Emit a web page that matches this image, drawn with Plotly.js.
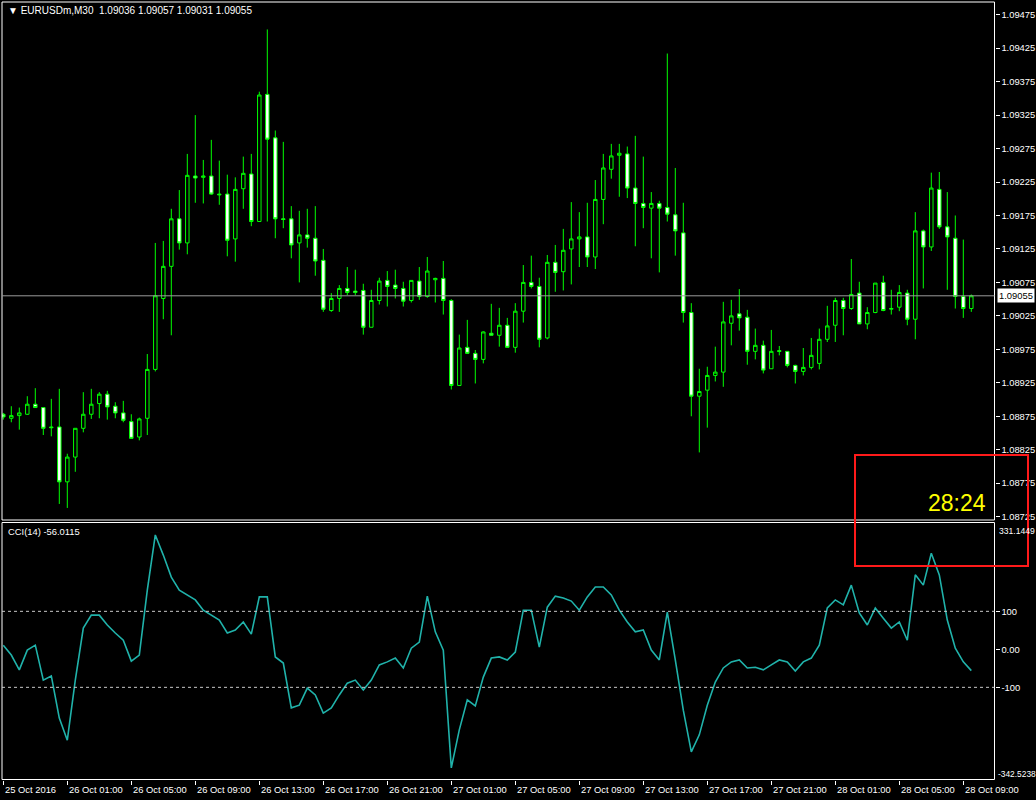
<!DOCTYPE html>
<html><head><meta charset="utf-8">
<script src="https://cdn.plot.ly/plotly-3.0.1.min.js"></script>
<style>html,body{margin:0;padding:0;background:#000;overflow:hidden}#chart{width:1036px;height:800px}</style>
</head><body><div id="chart"></div>
<script>
const headerText = "\u25BC EURUSDm,M30\u00a0\u00a01.09036 1.09057 1.09031 1.09055";
const firstBarUTC = [2016, 9, 25, 21, 0]; // 25 Oct 2016 21:00, M30 bars
const open = [1.08878,1.08872,1.08876,1.08878,1.08893,1.08888,1.08859,1.08859,1.08777,1.08814,1.08857,1.08878,1.08894,1.08908,1.08890,1.08880,1.08867,1.08844,1.08872,1.08945,1.09051,1.09099,1.09170,1.09134,1.09234,1.09232,1.09234,1.09207,1.09207,1.09140,1.09215,1.09237,1.09166,1.09356,1.09291,1.09170,1.09170,1.09134,1.09146,1.09141,1.09108,1.09033,1.09051,1.09066,1.09062,1.09063,1.09008,1.09048,1.09078,1.09071,1.09066,1.09048,1.09077,1.09054,1.09079,1.09081,1.09048,1.08921,1.08978,1.08969,1.08960,1.08999,1.08996,1.09011,1.08978,1.09032,1.09075,1.09069,1.08992,1.09105,1.09091,1.09125,1.09140,1.09143,1.09113,1.09199,1.09244,1.09265,1.09267,1.09216,1.09193,1.09186,1.09193,1.09187,1.09176,1.09149,1.09030,1.08905,1.08914,1.08936,1.08941,1.09014,1.09028,1.09023,1.08972,1.08981,1.08946,1.08973,1.08972,1.08951,1.08942,1.08948,1.08954,1.08990,1.09011,1.09048,1.09036,1.09059,1.09013,1.09030,1.09075,1.09035,1.09038,1.09059,1.09020,1.09152,1.09128,1.09214,1.09158,1.09141,1.09054,1.09036];
const high = [1.08880,1.08890,1.08888,1.08905,1.08917,1.08888,1.08901,1.08916,1.08819,1.08857,1.08911,1.08916,1.08911,1.08913,1.08896,1.08898,1.08878,1.08873,1.08968,1.09134,1.09137,1.09185,1.09213,1.09267,1.09325,1.09258,1.09288,1.09257,1.09236,1.09232,1.09263,1.09267,1.09360,1.09453,1.09302,1.09285,1.09189,1.09182,1.09185,1.09189,1.09125,1.09059,1.09071,1.09098,1.09094,1.09073,1.09064,1.09082,1.09092,1.09094,1.09076,1.09078,1.09098,1.09113,1.09082,1.09107,1.09050,1.08997,1.09019,1.08974,1.09002,1.09043,1.09037,1.09022,1.09044,1.09101,1.09115,1.09082,1.09116,1.09131,1.09155,1.09195,1.09180,1.09194,1.09228,1.09267,1.09282,1.09282,1.09278,1.09294,1.09263,1.09210,1.09197,1.09417,1.09246,1.09194,1.09044,1.08946,1.08949,1.08979,1.09046,1.09049,1.09065,1.09034,1.09006,1.08988,1.09004,1.08980,1.08972,1.08952,1.08977,1.08992,1.09006,1.09040,1.09052,1.09052,1.09110,1.09076,1.09038,1.09074,1.09085,1.09064,1.09071,1.09064,1.09180,1.09154,1.09239,1.09240,1.09210,1.09175,1.09139,1.09057];
const low = [1.08870,1.08866,1.08855,1.08877,1.08888,1.08847,1.08845,1.08744,1.08738,1.08792,1.08851,1.08871,1.08872,1.08870,1.08872,1.08866,1.08842,1.08839,1.08847,1.08942,1.09020,1.08996,1.09124,1.09117,1.09194,1.09193,1.09206,1.09191,1.09114,1.09106,1.09185,1.09159,1.09166,1.09166,1.09141,1.09156,1.09111,1.09075,1.09127,1.09085,1.09031,1.09031,1.09031,1.09056,1.09056,1.08997,1.09008,1.09042,1.09039,1.09051,1.09039,1.09045,1.09049,1.09052,1.09045,1.09027,1.08915,1.08921,1.08968,1.08924,1.08954,1.08996,1.08979,1.08978,1.08970,1.09015,1.09066,1.08978,1.08990,1.09061,1.09063,1.09072,1.09098,1.09098,1.09095,1.09162,1.09230,1.09203,1.09201,1.09129,1.09156,1.09111,1.09090,1.09166,1.09115,1.09015,1.08875,1.08821,1.08858,1.08927,1.08919,1.08981,1.09003,1.08952,1.08960,1.08939,1.08946,1.08966,1.08948,1.08924,1.08936,1.08945,1.08945,1.08986,1.08986,1.08996,1.09034,1.09013,1.09005,1.09029,1.09032,1.09027,1.09032,1.09011,1.08990,1.09066,1.09122,1.09155,1.09064,1.09036,1.09022,1.09031];
const close = [1.08874,1.08876,1.08880,1.08893,1.08888,1.08857,1.08858,1.08777,1.08814,1.08857,1.08878,1.08893,1.08908,1.08889,1.08880,1.08869,1.08842,1.08871,1.08945,1.09055,1.09099,1.09170,1.09134,1.09235,1.09231,1.09234,1.09207,1.09206,1.09138,1.09214,1.09238,1.09166,1.09355,1.09289,1.09170,1.09169,1.09131,1.09146,1.09141,1.09107,1.09035,1.09051,1.09066,1.09060,1.09060,1.09008,1.09048,1.09077,1.09069,1.09066,1.09047,1.09078,1.09054,1.09092,1.09081,1.09048,1.08921,1.08977,1.08969,1.08960,1.09001,1.08996,1.09011,1.08978,1.09032,1.09075,1.09069,1.08990,1.09105,1.09090,1.09123,1.09140,1.09143,1.09113,1.09199,1.09246,1.09264,1.09268,1.09216,1.09193,1.09187,1.09193,1.09186,1.09177,1.09152,1.09030,1.08905,1.08912,1.08936,1.08941,1.09016,1.09025,1.09022,1.08972,1.08981,1.08944,1.08972,1.08972,1.08951,1.08942,1.08948,1.08966,1.08990,1.09010,1.09048,1.09036,1.09057,1.09013,1.09030,1.09074,1.09033,1.09036,1.09060,1.09020,1.09152,1.09128,1.09216,1.09158,1.09143,1.09054,1.09036,1.09055];
const cci = [11,-15,-54,-2,11,-81,-70,-181,-239,-81,56,90,90,64,43,24,-31,-15,156,301,248,190,156,143,130,103,90,77,43,51,72,40,138,138,-20,-36,-154,-147,-102,-120,-168,-154,-120,-89,-81,-107,-81,-41,-33,-23,-49,3,19,140,46,-2,-312,-212,-133,-149,-73,-23,-20,-28,-7,103,103,6,111,140,135,127,103,138,164,164,143,103,72,46,51,-2,-28,98,-28,-160,-270,-225,-147,-86,-49,-33,-28,-49,-47,-54,-41,-28,-33,-57,-33,-23,11,109,130,117,169,96,64,109,82,56,72,24,196,169,253,196,77,3,-33,-56.0115];
const currentPrice = 1.09055;
const priceTicks = [1.09475,1.09425,1.09375,1.09325,1.09275,1.09225,1.09175,1.09125,1.09075,1.09025,1.08975,1.08925,1.08875,1.08825,1.08775,1.08725];
const priceTickText = ["1.09475","1.09425","1.09375","1.09325","1.09275","1.09225","1.09175","1.09125","1.09075","1.09025","1.08975","1.08925","1.08875","1.08825","1.08775","1.08725"];
const priceRange = [1.08720, 1.09494];
const cciName = "CCI(14) -56.0115";
const cciLevels = [100, -100];
const cciTicks = [100, 0, -100];
const cciTickText = ["100", "0.00", "-100"];
const cciMax = 331.1449, cciMin = -342.5238;
const cciMaxText = "331.1449", cciMinText = "-342.5238";
const timeLabelBars = [0,8,16,24,32,40,48,56,64,72,80,88,96,104,112,120];
const timeLabels = ["25 Oct 2016","26 Oct 01:00","26 Oct 05:00","26 Oct 09:00","26 Oct 13:00","26 Oct 17:00","26 Oct 21:00","27 Oct 01:00","27 Oct 05:00","27 Oct 09:00","27 Oct 13:00","27 Oct 17:00","27 Oct 21:00","28 Oct 01:00","28 Oct 05:00","28 Oct 09:00"];
const timerText = "28:24";

// ---- build ----
const W = 1036, H = 800;
const BAR_MS = 30 * 60 * 1000;
const t0 = Date.UTC(...firstBarUTC);
const fmt = ms => new Date(ms).toISOString().replace('T', ' ').slice(0, 19);
const times = open.map((_, i) => fmt(t0 + i * BAR_MS));
const px = x => x / W;            // pixel -> paper x
const py = y => 1 - y / H;        // pixel -> paper y
const L = 2, R = 994.5, MT = 2, MB = 520, CT = 523.5, CB = 779.5;
const pxPerBar = 8, firstBarPx = 3.3;
const xRange = [fmt(t0 + (L - firstBarPx) / pxPerBar * BAR_MS), fmt(t0 + (R - firstBarPx) / pxPerBar * BAR_MS)];
const FONT = "Liberation Sans, Arial, sans-serif";
const FS = 9.4;

const traces = [
  {
    type: 'candlestick', x: times, open, high, low, close,
    xaxis: 'x', yaxis: 'y', hoverinfo: 'skip',
    increasing: { line: { color: '#00ff00', width: 1 }, fillcolor: '#000000' },
    decreasing: { line: { color: '#00ff00', width: 1 }, fillcolor: '#ffffff' },
    whiskerwidth: 0
  },
  {
    type: 'scatter', mode: 'lines', x: times, y: cci, xaxis: 'x2', yaxis: 'y2',
    line: { color: '#20b2aa', width: 1.6 }, hoverinfo: 'skip'
  }
];

const shapes = [
  { type: 'rect', xref: 'paper', yref: 'paper', x0: px(L), x1: px(R), y0: py(MB), y1: py(MT), line: { color: '#ffffff', width: 1 } },
  { type: 'rect', xref: 'paper', yref: 'paper', x0: px(L), x1: px(R), y0: py(CB), y1: py(CT - 1), line: { color: '#ffffff', width: 1 } },
  { type: 'line', xref: 'paper', yref: 'y', x0: px(L), x1: px(R), y0: currentPrice, y1: currentPrice, line: { color: '#9a9a9a', width: 1 } },
  ...cciLevels.map(v => ({ type: 'line', xref: 'paper', yref: 'y2', x0: px(L), x1: px(R), y0: v, y1: v, line: { color: '#c8c8c8', width: 1, dash: '3px,3px' } })),
  { type: 'rect', xref: 'paper', yref: 'paper', x0: px(855), x1: px(1028), y0: py(566), y1: py(455), line: { color: '#ff1a1a', width: 2 } }
];

const annotations = [
  { xref: 'paper', yref: 'paper', x: px(6), y: py(10.5), xanchor: 'left', yanchor: 'middle', text: headerText, showarrow: false, font: { family: FONT, size: 10, color: '#ffffff' } },
  { xref: 'paper', yref: 'paper', x: px(6), y: py(531), xanchor: 'left', yanchor: 'middle', text: cciName, showarrow: false, font: { family: FONT, size: FS, color: '#ffffff' } },
  { xref: 'paper', yref: 'y', x: px(997), y: currentPrice, xanchor: 'left', yanchor: 'middle', text: currentPrice.toFixed(5), showarrow: false, bgcolor: '#ffffff', borderpad: 1, font: { family: FONT, size: FS, color: '#000000' } },
  { xref: 'paper', yref: 'paper', x: px(997), y: py(530.5), xanchor: 'left', yanchor: 'middle', text: cciMaxText, showarrow: false, font: { family: FONT, size: 8.6, color: '#ffffff' } },
  { xref: 'paper', yref: 'paper', x: px(996), y: py(774), xanchor: 'left', yanchor: 'middle', text: cciMinText, showarrow: false, font: { family: FONT, size: 8.4, color: '#ffffff' } },
  { xref: 'paper', yref: 'paper', x: px(988), y: py(503), xanchor: 'right', yanchor: 'middle', text: timerText, showarrow: false, font: { family: FONT, size: 23, color: '#ffff00' } },
  ...timeLabelBars.map((b, k) => ({ xref: 'x2', yref: 'paper', x: fmt(t0 + (b - 0.1) * BAR_MS), y: py(789.5), xanchor: 'left', yanchor: 'middle', text: timeLabels[k], showarrow: false, font: { family: FONT, size: FS, color: '#ffffff' } }))
];

const axisCommon = { showgrid: false, zeroline: false, showline: false, color: '#ffffff' };
const layout = {
  width: W, height: H, margin: { l: 0, r: 0, t: 0, b: 0 },
  paper_bgcolor: '#000000', plot_bgcolor: '#000000', showlegend: false,
  boxgap: 0.38,
  xaxis: { ...axisCommon, type: 'date', domain: [px(L), px(R)], range: xRange, anchor: 'y', showticklabels: false, ticks: '', rangeslider: { visible: false } },
  xaxis2: { ...axisCommon, type: 'date', domain: [px(L), px(R)], range: xRange, anchor: 'y2', matches: 'x', showticklabels: false,
            ticks: 'outside', ticklen: 4, tickcolor: '#ffffff', tickwidth: 1, tickmode: 'array', tickvals: timeLabelBars.map(b => fmt(t0 + b * BAR_MS)) },
  yaxis: { ...axisCommon, domain: [py(MB), py(MT)], range: priceRange, side: 'right', anchor: 'x', tickmode: 'array', tickvals: priceTicks, ticktext: priceTickText,
           ticks: 'outside', ticklen: 4, tickcolor: '#ffffff', tickwidth: 1, tickfont: { family: FONT, size: FS, color: '#ffffff' } },
  yaxis2: { ...axisCommon, domain: [py(CB), py(CT)], range: [cciMin, cciMax], side: 'right', anchor: 'x2', tickmode: 'array', tickvals: cciTicks, ticktext: cciTickText,
            ticks: 'outside', ticklen: 4, tickcolor: '#ffffff', tickwidth: 1, tickfont: { family: FONT, size: FS, color: '#ffffff' } },
  shapes, annotations
};

Plotly.newPlot('chart', traces, layout, { staticPlot: true, displayModeBar: false });
</script>
</body></html>
